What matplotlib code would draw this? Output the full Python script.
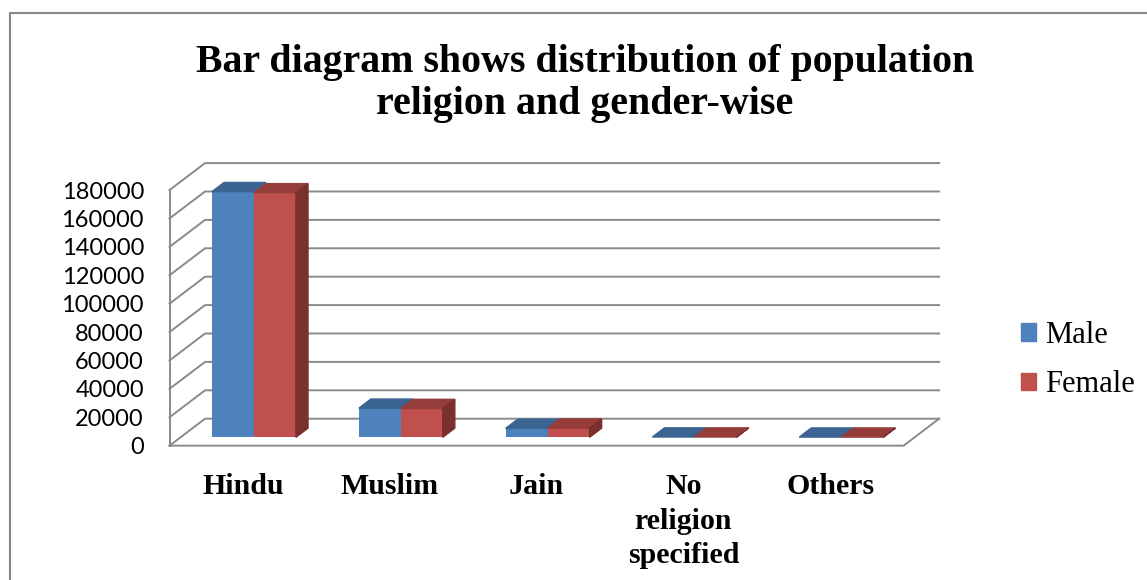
import numpy as np
import matplotlib.pyplot as plt
from matplotlib.patches import Polygon, Rectangle

# population by religion and gender
religions = ['Hindu', 'Muslim', 'Jain', 'No\nreligion\nspecified', 'Others']
male = [173000, 20500, 6300, 200, 150]
female = [172200, 20300, 6500, 200, 150]
y_ticks = list(range(0, 180001, 20000))

# colours
blue, blue_top = '#4F81BD', '#3C6492'
red, red_top, red_side = '#C0504D', '#943D3B', '#7B302E'
grid = '#8A8A8A'

# fake 3d: depth offset of the back wall in data units
depth_x, depth_y = 0.242, 19000
bar_w = 0.286
f0, f1 = 0.31, 0.65   # front / back of the bars as a fraction of depth

fig = plt.figure(figsize=(11.47, 5.80), dpi=100)
ax = fig.add_axes([0.1478, 0.2316, 0.640, 0.4407])
n = len(religions)
ax.set_xlim(0, n)
ax.set_ylim(0, y_ticks[-1])

# back wall and left wall gridlines
for v in y_ticks:
    ax.plot([0, depth_x, n + depth_x], [v, v + depth_y, v + depth_y],
            color=grid, lw=1.4, clip_on=False, zorder=1)
# left wall front edge and floor
ax.plot([0, 0], [0, y_ticks[-1]], color=grid, lw=1.4, clip_on=False, zorder=1)
ax.plot([0, n, n + depth_x], [0, 0, depth_y], color=grid, lw=1.4,
        clip_on=False, zorder=1)

sx, sy = f0 * depth_x, f0 * depth_y
bdx, bdy = (f1 - f0) * depth_x, (f1 - f0) * depth_y
x = np.arange(n) + 0.5

ax.bar(x - bar_w + sx, male, bar_w, bottom=sy, align='edge', color=blue,
       zorder=3, clip_on=False)
ax.bar(x + sx, female, bar_w, bottom=sy, align='edge', color=red,
       zorder=3, clip_on=False)

for i in range(n):
    xm = x[i] - bar_w + sx
    xf = x[i] + sx
    tm = sy + male[i]
    tf = sy + female[i]
    ax.add_patch(Polygon([(xm, tm), (xm + bar_w, tm), (xm + bar_w + bdx, tm + bdy),
                          (xm + bdx, tm + bdy)], closed=True, color=blue_top,
                         zorder=3, clip_on=False))
    ax.add_patch(Polygon([(xf, tf), (xf + bar_w, tf), (xf + bar_w + bdx, tf + bdy),
                          (xf + bdx, tf + bdy)], closed=True, color=red_top,
                         zorder=3, clip_on=False))
    ax.add_patch(Polygon([(xf + bar_w, sy), (xf + bar_w, tf),
                          (xf + bar_w + bdx, tf + bdy), (xf + bar_w + bdx, sy + bdy)],
                         closed=True, color=red_side, zorder=3, clip_on=False))

for s in ax.spines.values():
    s.set_visible(False)

ax.set_yticks(y_ticks)
ax.set_yticklabels([str(v) for v in y_ticks], family='Lato', fontsize=17)
ax.tick_params(axis='y', length=0, pad=18.4)
ax.set_xticks(x)
ax.set_xticklabels(religions, family='Liberation Serif', fontweight='bold',
                   fontsize=21.5, linespacing=1.37)
ax.tick_params(axis='x', length=0, pad=19.5)

fig.text(0.51, 0.856, 'Bar diagram shows distribution of population\nreligion and gender-wise',
         ha='center', va='center', fontsize=28.7, fontweight='bold',
         family='Liberation Serif', linespacing=1.2)

handles = [Rectangle((0, 0), 1, 1, color=blue), Rectangle((0, 0), 1, 1, color=red)]
fig.legend(handles, ['Male', 'Female'], loc='center left',
           bbox_to_anchor=(0.890, 0.379), frameon=False,
           prop={'family': 'Liberation Serif', 'size': 22},
           handlelength=0.5, handleheight=0.5, handletextpad=0.3,
           labelspacing=0.67, borderpad=0, borderaxespad=0)

# chart area border
fig.patches.append(Rectangle((10 / 1147, -0.1), 1.2, 1.1 - 13 / 580, fill=False,
                             edgecolor='#888888', lw=1.5,
                             transform=fig.transFigure, figure=fig))

fig.savefig('out.png', dpi=100)
